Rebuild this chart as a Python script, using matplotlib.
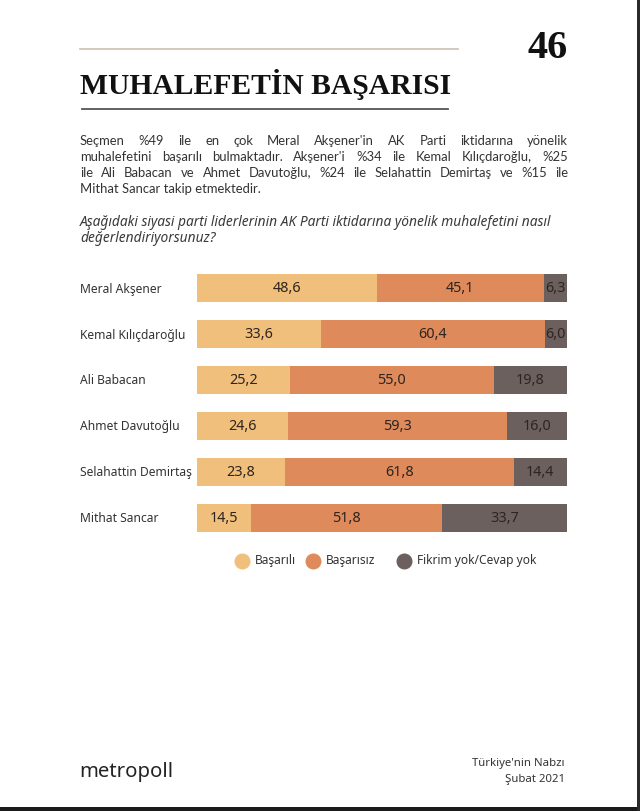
import numpy as np
import matplotlib
matplotlib.use("Agg")
import matplotlib.pyplot as plt
from matplotlib.lines import Line2D

# data
leaders = ["Meral Akşener", "Kemal Kılıçdaroğlu", "Ali Babacan",
           "Ahmet Davutoğlu", "Selahattin Demirtaş", "Mithat Sancar"]
basarili = [48.6, 33.6, 25.2, 24.6, 23.8, 14.5]
basarisiz = [45.1, 60.4, 55.0, 59.3, 61.8, 51.8]
fikrim_yok = [6.3, 6.0, 19.8, 16.0, 14.4, 33.7]
series_names = ["Başarılı", "Başarısız", "Fikrim yok/Cevap yok"]
colors = ["#F1BF7C", "#DE8A5B", "#6C605E"]

paragraph = [
    "Seçmen %49 ile en çok Meral Akşener'in AK Parti iktidarına yönelik",
    "muhalefetini başarılı bulmaktadır. Akşener'i %34 ile Kemal Kılıçdaroğlu, %25",
    "ile Ali Babacan ve Ahmet Davutoğlu, %24 ile Selahattin Demirtaş ve %15 ile",
    "Mithat Sancar takip etmektedir.",
]
question = [
    "Aşağıdaki siyasi parti liderlerinin AK Parti iktidarına yönelik muhalefetini nasıl",
    "değerlendiriyorsunuz?",
]

W, H = 640, 812
fig = plt.figure(figsize=(W / 100, H / 100), dpi=100)
fig.patch.set_facecolor("white")
SANS = ["Noto Sans", "DejaVu Sans"]
BODY = ["Lato", "DejaVu Sans"]
SERIF = ["Liberation Serif", "DejaVu Serif"]
TXT = "#333333"


def px(x, y):
    # pixel coords (top-left origin) -> figure fraction
    return x / W, 1 - y / H


# header lines
fig.add_artist(Line2D([80 / W, 458 / W], [1 - 50 / H] * 2, color="#CDBFB2", lw=1.2))
fig.add_artist(Line2D([82 / W, 448 / W], [1 - 110 / H] * 2, color="#555555", lw=1.3))
fig.text(*px(548, 48), "46", family=SERIF, weight="bold", fontsize=29,
         ha="center", va="center", color="#111111")
fig.text(*px(80, 85), "MUHALEFETİN BAŞARISI", family=SERIF, weight="bold",
         fontsize=21.3, ha="left", va="center", color="#111111")

# paragraph, justified
renderer = fig.canvas.get_renderer()


def justified(line, y, x0, x1, **kw):
    words = line.split()
    texts = [fig.text(0, 0, w, va="center", ha="left", **kw) for w in words]
    widths = [t.get_window_extent(renderer).width for t in texts]
    gap = (x1 - x0 - sum(widths)) / (len(words) - 1)
    x = x0
    for t, w in zip(texts, widths):
        t.set_position(px(x, y))
        x += w + gap


for i, line in enumerate(paragraph):
    y = 141 + i * 16
    if i < len(paragraph) - 1:
        justified(line, y, 80, 568, family=BODY, fontsize=9.4, color=TXT)
    else:
        fig.text(*px(80, y), line, family=BODY, fontsize=9.4, color=TXT, va="center")

for i, line in enumerate(question):
    fig.text(*px(80, 222 + i * 16), line, family=SANS, fontsize=9.9,
             style="italic", weight="semibold", color="#3a3a3a", va="center")

# bars
ax = fig.add_axes([197 / W, 1 - 542 / H, 370 / W, 276 / H])
y = np.arange(len(leaders))
left = np.zeros(len(leaders))
for vals, col in zip([basarili, basarisiz, fikrim_yok], colors):
    vals = np.array(vals)
    ax.barh(y, vals, left=left, height=0.59, color=col, edgecolor="none")
    for yi, l, v in zip(y, left, vals):
        ax.text(l + v / 2, yi, f"{v:.1f}".replace(".", ","), ha="center",
                va="center", fontsize=10.4, color="#2e2420", family=SANS)
    left += vals
ax.set_xlim(0, 100)
ax.set_ylim(len(leaders) - 0.5, -0.5)
ax.axis("off")
for yi, name in zip(y, leaders):
    ax.text(-117 / 370, yi, name, transform=ax.get_yaxis_transform(),
            ha="left", va="center", fontsize=8.7, color=TXT, family=SANS)

# legend
leg_x = [242, 313, 404]
for lx, name, col in zip(leg_x, series_names, colors):
    fig.add_artist(Line2D([lx / W], [1 - 562 / H], marker="o", markersize=10.5,
                          color=col, lw=0))
    fig.text(*px(lx + 13, 561), name, family=SANS, fontsize=8.6, color=TXT,
             va="center")

# footer
fig.text(*px(79, 772), "metropoll", family=SANS, fontsize=14.6, color="#222222",
         va="center")
fig.text(*px(565, 764), "Türkiye'nin Nabzı", family=SANS, fontsize=8.2,
         color=TXT, va="center", ha="right")
fig.text(*px(565, 780), "Şubat 2021", family=SANS, fontsize=8.2,
         color=TXT, va="center", ha="right")

# page edges
fig.add_artist(plt.Rectangle((0, 0), 1, 4 / H, color="#1a1a1a", lw=0))
fig.add_artist(plt.Rectangle((1 - 3 / W, 0), 3 / W, 1, color="#2a2a2a", lw=0))

fig.savefig("out.png", dpi=100)
